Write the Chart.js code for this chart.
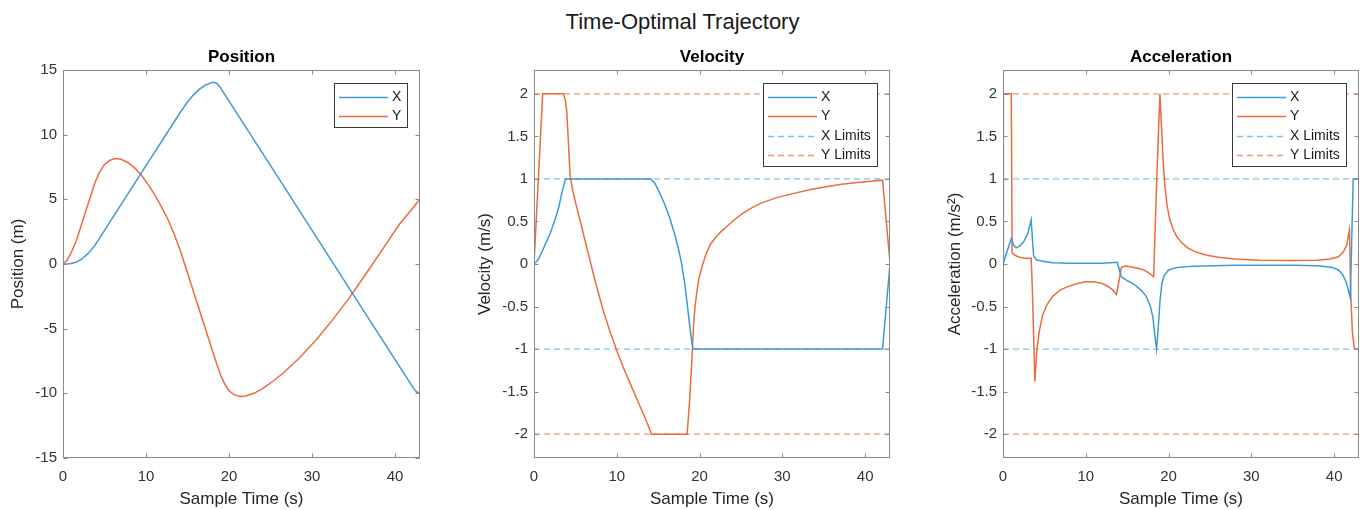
<!DOCTYPE html>
<html><head><meta charset="utf-8">
<script src="https://cdn.jsdelivr.net/npm/chart.js@4.4.0/dist/chart.umd.min.js"></script>
<style>
html,body{margin:0;padding:0;background:#fff;width:1360px;height:510px;overflow:hidden;position:relative;}
#title{position:absolute;left:0;top:8px;width:1365px;text-align:center;font:22px "Liberation Sans",Arial,sans-serif;color:#1a1a1a;line-height:28px;}
canvas{position:absolute;top:40px;}
</style></head><body>
<div id="title">Time-Optimal Trajectory</div>
<canvas id="c1" width="440" height="470" style="left:0px"></canvas>
<canvas id="c2" width="440" height="470" style="left:471px"></canvas>
<canvas id="c3" width="440" height="470" style="left:940px"></canvas>
<script>
const timeRange = [0, 43];
const xTickValues = [0, 10, 20, 30, 40];
const posTickValues = [-15, -10, -5, 0, 5, 10, 15];
const velTickValues = [-2, -1.5, -1, -0.5, 0, 0.5, 1, 1.5, 2];
const posRange = [-15, 15];
const velRange = [-2.28, 2.28];
const xLimitValues = [-1, 1];
const yLimitValues = [-2, 2];
const seriesNames = ['X', 'Y', 'X Limits', 'Y Limits'];
const panelTitles = ['Position', 'Velocity', 'Acceleration'];
const yAxisTitles = ['Position (m)', 'Velocity (m/s)', 'Acceleration (m/s\u00B2)'];
const xAxisTitle = 'Sample Time (s)';

const posXTime = [0, 0.8, 1.5, 2.2, 3.0, 3.8, 4.5, 5, 10, 14, 14.8, 15.6, 16.4, 17.2, 18.0, 18.5, 19.0, 19.5, 20, 25, 30, 35, 40, 42.2, 42.6, 43];
const posXVal  = [0, 0.02, 0.12, 0.35, 0.8, 1.4, 2.1, 2.6, 7.6, 11.6, 12.35, 13.0, 13.5, 13.85, 14.05, 14.0, 13.6, 13.1, 12.6, 7.6, 2.6, -2.4, -7.4, -9.6, -9.9, -10.0];

const posYTime = [0, 0.5, 1.0, 1.6, 2.2, 2.8, 3.4, 3.8, 4.4, 5.0, 5.6, 6.3, 7.0, 7.8, 8.6, 9.4, 10.2, 11.0, 11.8, 12.6, 13.4, 14.2, 15, 16, 17, 18, 18.5, 19.0, 19.5, 20.0, 20.6, 21.3, 22.0, 23, 24, 25, 26.5, 28.5, 30.5, 32.5, 34.5, 36.5, 38.5, 40.5, 43];
const posYVal  = [0, 0.3, 0.9, 1.8, 3.0, 4.2, 5.4, 6.2, 7.1, 7.7, 8.0, 8.15, 8.1, 7.85, 7.45, 6.9, 6.2, 5.4, 4.5, 3.5, 2.3, 0.9, -0.7, -2.7, -4.7, -6.7, -7.7, -8.6, -9.3, -9.8, -10.1, -10.25, -10.2, -10.0, -9.65, -9.2, -8.45, -7.25, -5.85, -4.3, -2.6, -0.75, 1.15, 3.05, 5.0];

const velXTime = [0, 0.5, 1.0, 1.5, 2.0, 2.5, 3.0, 3.4, 3.8, 14.1, 14.6, 15.2, 15.8, 16.4, 16.9, 17.4, 17.8, 18.2, 18.6, 19.0, 19.2, 42.1, 43];
const velXVal  = [0, 0.05, 0.15, 0.26, 0.37, 0.51, 0.67, 0.85, 1.0, 1.0, 0.95, 0.83, 0.7, 0.54, 0.38, 0.2, 0.02, -0.22, -0.55, -0.88, -1.0, -1.0, 0];

const velYTime = [0, 1.05, 3.55, 3.8, 3.95, 4.15, 4.35, 4.7, 5.2, 5.8, 6.4, 7.0, 7.6, 8.4, 9.2, 10.0, 10.8, 11.6, 12.4, 13.2, 13.8, 14.2, 18.5, 18.8, 19.07, 19.26, 19.45, 19.67, 19.9, 20.3, 20.8, 21.3, 22.0, 22.6, 23.3, 24.2, 25.3, 26.3, 27.3, 29.3, 31.4, 33.4, 35.4, 37.4, 39.4, 41.0, 42.1, 43];
const velYVal  = [0, 2.0, 2.0, 1.92, 1.8, 1.45, 1.05, 0.85, 0.65, 0.42, 0.18, -0.05, -0.28, -0.56, -0.8, -1.02, -1.22, -1.4, -1.58, -1.76, -1.9, -2.0, -2.0, -1.6, -1.13, -0.74, -0.5, -0.33, -0.18, -0.03, 0.12, 0.23, 0.32, 0.38, 0.44, 0.52, 0.6, 0.66, 0.71, 0.78, 0.83, 0.875, 0.91, 0.94, 0.96, 0.975, 0.985, 0.02];

const accXTime = [0, 0.5, 1.0, 1.3, 1.6, 2.0, 2.5, 3.0, 3.4, 3.55, 3.7, 4.0, 5, 6, 8, 12, 13.8, 14.0, 14.3, 14.9, 15.5, 16.1, 16.7, 17.3, 17.8, 18.1, 18.35, 18.55, 18.75, 18.95, 19.2, 19.5, 20.0, 21.0, 23, 28, 35, 38, 39.8, 40.5, 41.0, 41.4, 41.7, 41.95, 42.3, 43];
const accXVal  = [0, 0.15, 0.3, 0.22, 0.19, 0.21, 0.26, 0.36, 0.52, 0.3, 0.1, 0.05, 0.03, 0.015, 0.01, 0.01, 0.02, -0.05, -0.15, -0.19, -0.22, -0.26, -0.31, -0.38, -0.5, -0.62, -0.85, -1.0, -0.75, -0.45, -0.22, -0.13, -0.07, -0.04, -0.025, -0.015, -0.015, -0.02, -0.04, -0.07, -0.12, -0.2, -0.3, -0.4, 1.0, 1.0];

const accYTime = [0, 0.05, 1.0, 1.1, 1.5, 2.0, 2.8, 3.4, 3.55, 3.85, 4.1, 4.4, 4.8, 5.3, 6.0, 7.0, 8.0, 9.0, 10.0, 11.0, 12.0, 12.8, 13.3, 13.7, 14.0, 14.3, 14.8, 15.5, 16.3, 17.0, 17.7, 18.2, 18.5, 18.95, 19.15, 19.35, 19.55, 19.8, 20.1, 20.5, 21.0, 21.6, 22.3, 23.2, 24.5, 26, 28, 31, 35, 38, 39.5, 40.5, 41.1, 41.5, 41.85, 42.0, 42.2, 42.4, 42.6, 43];
const accYVal  = [0, 2.0, 2.0, 0.13, 0.1, 0.08, 0.065, 0.07, -0.3, -1.38, -1.0, -0.78, -0.6, -0.48, -0.38, -0.3, -0.26, -0.23, -0.21, -0.21, -0.23, -0.27, -0.31, -0.36, -0.2, -0.04, -0.025, -0.035, -0.05, -0.07, -0.11, -0.15, 0.8, 2.0, 1.6, 1.2, 0.92, 0.7, 0.54, 0.42, 0.32, 0.25, 0.19, 0.145, 0.105, 0.08, 0.06, 0.045, 0.04, 0.045, 0.06, 0.085, 0.14, 0.22, 0.4, -0.35, -0.8, -0.97, -1.0, -1.0];

const BLUE = '#3d9ad6', ORANGE = '#ea6c40', BLUE_D = '#86bfe8', ORANGE_D = '#ee9a7c';
Chart.defaults.font.family = '"Liberation Sans", Arial, Helvetica, sans-serif';

const pts = (t, v) => t.map((ti, i) => ({x: ti, y: v[i]}));
const limitPts = lims => lims.flatMap((l, i) => {
  const seg = [{x: timeRange[0], y: l}, {x: timeRange[1], y: l}];
  return i ? [{x: timeRange[1], y: null}, ...seg] : seg;
});
const solid = (label, color, data) => ({label, data, borderColor: color, backgroundColor: color, borderWidth: 1.5, pointRadius: 0, tension: 0, fill: false});
const dashed = (label, color, data) => ({label, data, borderColor: color, backgroundColor: color, borderWidth: 1.3, borderDash: [6, 4], pointRadius: 0, tension: 0, fill: false, spanGaps: false});

const frame = {
  id: 'frame',
  afterDatasetsDraw(chart, args, opts) {
    const {ctx, chartArea: a, scales: {x, y}} = chart;
    ctx.save();
    ctx.strokeStyle = '#8a8a8a'; ctx.lineWidth = 1;
    const l = Math.round(a.left) + 0.5, t = Math.round(a.top) + 0.5, r = Math.round(a.right) - 0.5, b = Math.round(a.bottom) - 0.5;
    ctx.strokeRect(l, t, r - l, b - t);
    const L = 4;
    ctx.beginPath();
    x.ticks.forEach(tk => { const px = Math.round(x.getPixelForValue(tk.value)) + 0.5; ctx.moveTo(px, b); ctx.lineTo(px, b - L); ctx.moveTo(px, t); ctx.lineTo(px, t + L); });
    y.ticks.forEach(tk => { const py = Math.round(y.getPixelForValue(tk.value)) + 0.5; ctx.moveTo(l, py); ctx.lineTo(l + L, py); ctx.moveTo(r, py); ctx.lineTo(r - L, py); });
    ctx.stroke();
    ctx.fillStyle = '#000'; ctx.font = 'bold 17px "Liberation Sans", Arial, sans-serif';
    ctx.textAlign = 'center'; ctx.textBaseline = 'middle';
    ctx.fillText(opts.text, (a.left + a.right) / 2, a.top - 13);
    ctx.restore();
  }
};

const boxLegend = {
  id: 'boxLegend',
  afterDraw(chart) {
    const {ctx, chartArea: a} = chart;
    const ds = chart.data.datasets;
    ctx.save();
    ctx.font = '14px "Liberation Sans", Arial, sans-serif';
    const tw = Math.max(...ds.map(d => ctx.measureText(d.label).width));
    const sample = 49, padL = 5, gap = 4, padR = 6, rowH = 19.3;
    const w = Math.round(padL + sample + gap + tw + padR);
    const h = Math.round(25 + rowH * (ds.length - 1));
    const right = Math.round(a.right) - 13, top = Math.round(a.top) + 13;
    const left = right - w;
    ctx.fillStyle = '#fff'; ctx.fillRect(left, top, w, h);
    ctx.strokeStyle = '#3a3a3a'; ctx.lineWidth = 1; ctx.strokeRect(left + 0.5, top + 0.5, w, h);
    ds.forEach((d, i) => {
      const cy = Math.round(top + 14 + i * rowH) + 0.5;
      ctx.strokeStyle = d.borderColor; ctx.lineWidth = d.borderWidth; ctx.setLineDash(d.borderDash || []);
      ctx.beginPath(); ctx.moveTo(left + padL, cy); ctx.lineTo(left + padL + sample, cy); ctx.stroke();
      ctx.setLineDash([]);
      ctx.fillStyle = '#1a1a1a'; ctx.textAlign = 'left'; ctx.textBaseline = 'middle';
      ctx.fillText(d.label, left + padL + sample + gap, cy);
    });
    ctx.restore();
  }
};

function makeChart(id, datasets, yRange, yTicks, title, yTitle, titlePad, padRight) {
  return new Chart(document.getElementById(id), {
    type: 'line',
    data: {datasets},
    plugins: [frame, boxLegend],
    options: {
      responsive: false, animation: false, devicePixelRatio: 1,
      layout: {padding: {top: 30, right: padRight, bottom: 0, left: 0}},
      plugins: {legend: {display: false}, tooltip: {enabled: false}, title: {display: false}, frame: {text: title}},
      scales: {
        x: {
          type: 'linear', min: timeRange[0], max: timeRange[1],
          afterBuildTicks: s => { s.ticks = xTickValues.map(v => ({value: v})); },
          afterFit: s => { s.height = 52; },
          grid: {display: false, drawTicks: false}, border: {display: false},
          ticks: {padding: 10, color: '#333', font: {size: 15}, maxRotation: 0, autoSkip: false, callback: v => String(v)},
          title: {display: true, text: xAxisTitle, color: '#262626', font: {size: 17}, padding: {top: 0, bottom: 0}}
        },
        y: {
          type: 'linear', min: yRange[0], max: yRange[1],
          afterBuildTicks: s => { s.ticks = yTicks.map(v => ({value: v})); },
          afterFit: s => { s.width = 63; },
          grid: {display: false, drawTicks: false}, border: {display: false},
          ticks: {padding: 6, color: '#333', font: {size: 15}, autoSkip: false, callback: v => String(v)},
          title: {display: true, text: yTitle, color: '#262626', font: {size: 17}, padding: {top: titlePad, bottom: 0}}
        }
      }
    }
  });
}

makeChart('c1', [
  solid(seriesNames[0], BLUE, pts(posXTime, posXVal)),
  solid(seriesNames[1], ORANGE, pts(posYTime, posYVal))
], posRange, posTickValues, panelTitles[0], yAxisTitles[0], 7.8, 20);

makeChart('c2', [
  solid(seriesNames[0], BLUE, pts(velXTime, velXVal)),
  solid(seriesNames[1], ORANGE, pts(velYTime, velYVal)),
  dashed(seriesNames[2], BLUE_D, limitPts(xLimitValues)),
  dashed(seriesNames[3], ORANGE_D, limitPts(yLimitValues))
], velRange, velTickValues, panelTitles[1], yAxisTitles[1], 3.8, 21);

makeChart('c3', [
  solid(seriesNames[0], BLUE, pts(accXTime, accXVal)),
  solid(seriesNames[1], ORANGE, pts(accYTime, accYVal)),
  dashed(seriesNames[2], BLUE_D, limitPts(xLimitValues)),
  dashed(seriesNames[3], ORANGE_D, limitPts(yLimitValues))
], velRange, velTickValues, panelTitles[2], yAxisTitles[2], 4.8, 21);
</script>
</body></html>
